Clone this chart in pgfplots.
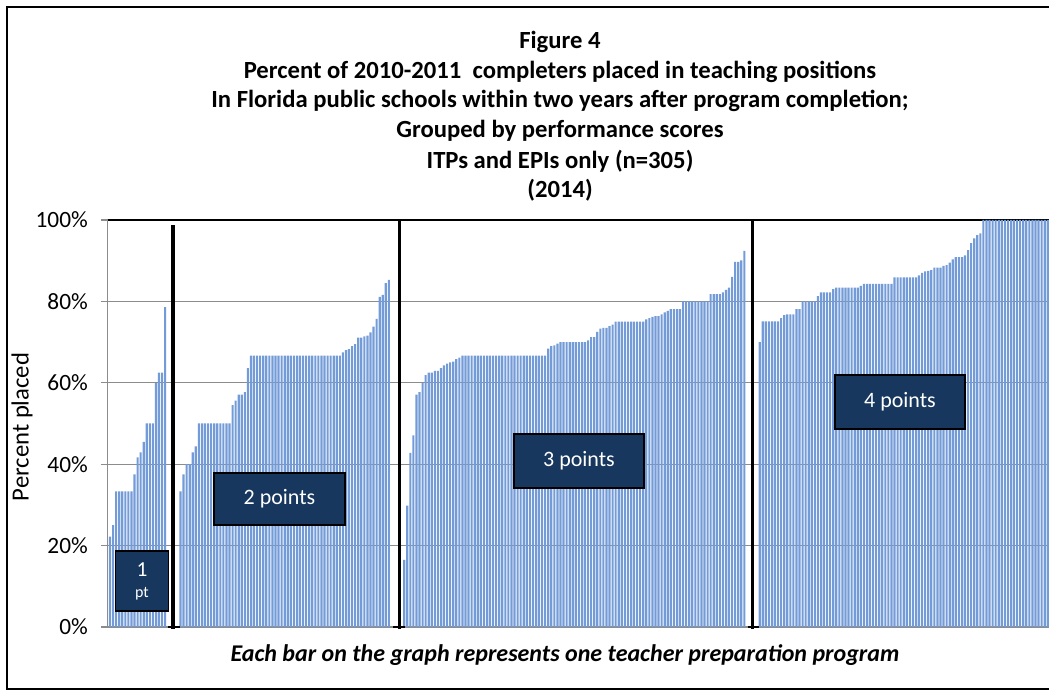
\documentclass[border=0pt]{standalone}
\usepackage{fontspec}
\setmainfont{Carlito}
\usepackage{pgfplots}
\pgfplotsset{compat=1.18}
\definecolor{navy}{HTML}{17375E}
\definecolor{barblue}{HTML}{739BD8}
\definecolor{gridgray}{HTML}{8C8C8C}
\begin{document}
\begin{tikzpicture}[x=0.75pt,y=0.75pt]
\useasboundingbox (0,0) rectangle (1049,692);
\draw[line width=0.9pt] (7,3) rectangle (1060,685);
\begin{axis}[
  at={(80.625pt,48.75pt)}, anchor=south west,
  scale only axis, width=706.1pt, height=305.25pt,
  xmin=-0.82, xmax=306.4, ymin=0, ymax=100,
  axis x line*=bottom, axis y line*=left,
  axis line style={gridgray, line width=0.8pt},
  xtick=\empty,
  ytick={0,20,40,60,80,100},
  yticklabel={\pgfmathprintnumber{\tick}\%},
  /pgf/number format/assume math mode=true,
  tick align=outside, major tick length=5.25pt,
  ytick style={gridgray, line width=0.8pt},
  yticklabel style={font=\fontsize{17.5}{20}\selectfont, xshift=-6pt},
  ymajorgrids, grid style={gridgray, line width=0.8pt},
  clip=false,
]
\draw[black, line width=0.9pt] (rel axis cs:0,1) -- (rel axis cs:1,1);
\addplot[ybar, bar width=0.7, draw=none, fill=barblue] coordinates {
(0,22.2) (1,25) (2,33.3) (3,33.3) (4,33.3) (5,33.3) (6,33.3) (7,33.3) (8,37.5) (9,41.7) (10,42.9) (11,45.5) (12,50) (13,50) (14,50) (15,60) (16,62.5) (17,62.5) (18,78.6)
(23,33.3) (24,37.5) (25,40) (26,40) (27,42.9) (28,44.4)
(29,50) (30,50) (31,50) (32,50) (33,50) (34,50) (35,50) (36,50) (37,50) (38,50) (39,50)
(40,54.5) (41,55.6) (42,57.1) (43,57.1) (44,57.7) (45,63.6)
(46,66.7) (47,66.7) (48,66.7) (49,66.7) (50,66.7) (51,66.7) (52,66.7) (53,66.7) (54,66.7) (55,66.7)
(56,66.7) (57,66.7) (58,66.7) (59,66.7) (60,66.7) (61,66.7) (62,66.7) (63,66.7) (64,66.7) (65,66.7)
(66,66.7) (67,66.7) (68,66.7) (69,66.7) (70,66.7) (71,66.7) (72,66.7) (73,66.7) (74,66.7) (75,66.7)
(76,67.5) (77,68) (78,68.3) (79,69) (80,69.5) (81,71.1) (82,71.1) (83,71.4) (84,71.6) (85,72.4) (86,73.8) (87,75.7) (88,81.1) (89,81.6) (90,84.5) (91,85.3)
(96,16.5) (97,29.8) (98,42.8) (99,47.1) (100,57.1) (101,57.7) (102,60) (103,61.9) (104,62.5) (105,62.5) (106,62.9) (107,62.9) (108,63.6) (109,64.3) (110,64.7) (111,65) (112,65.2) (113,65.8) (114,66.2)
(115,66.7) (116,66.7) (117,66.7) (118,66.7) (119,66.7) (120,66.7) (121,66.7) (122,66.7) (123,66.7) (124,66.7)
(125,66.7) (126,66.7) (127,66.7) (128,66.7) (129,66.7) (130,66.7) (131,66.7) (132,66.7) (133,66.7) (134,66.7)
(135,66.7) (136,66.7) (137,66.7) (138,66.7) (139,66.7) (140,66.7) (141,66.7) (142,66.7)
(143,68.4) (144,69) (145,69.2) (146,69.6)
(147,70) (148,70) (149,70) (150,70) (151,70) (152,70) (153,70) (154,70) (155,70)
(156,70.4) (157,71.2) (158,71.2) (159,72.5) (160,73.3) (161,73.5) (162,73.5) (163,73.9) (164,74.3)
(165,75) (166,75) (167,75) (168,75) (169,75) (170,75) (171,75) (172,75) (173,75) (174,75)
(175,75.6) (176,75.9) (177,76.2) (178,76.4) (179,76.4) (180,76.8) (181,77.3) (182,77.7) (183,78.1) (184,78.1) (185,78.1) (186,78.1)
(187,80) (188,80) (189,80) (190,80) (191,80) (192,80) (193,80) (194,80) (195,80)
(196,81.8) (197,81.8) (198,81.8) (199,81.8)
(200,82.2) (201,82.8) (202,83.4) (203,86) (204,89.7) (205,89.7) (206,90.1) (207,92.4)
(212,70)
(213,75.1) (214,75.1) (215,75.1) (216,75.1) (217,75.1) (218,75.1)
(219,75.9) (220,76.6) (221,76.8) (222,76.8) (223,76.8) (224,78.1) (225,78.1)
(226,80) (227,80) (228,80) (229,80) (230,80)
(231,81.3)
(232,82.2) (233,82.2) (234,82.2) (235,82.2)
(236,83)
(237,83.4) (238,83.4) (239,83.4) (240,83.4) (241,83.4) (242,83.4) (243,83.4) (244,83.4)
(245,83.8)
(246,84.3) (247,84.3) (248,84.3) (249,84.3) (250,84.3) (251,84.3) (252,84.3) (253,84.3) (254,84.3) (255,84.3)
(256,85.9) (257,85.9) (258,85.9) (259,85.9) (260,85.9) (261,85.9) (262,85.9) (263,85.9)
(264,86.4) (265,87) (266,87.4) (267,87.5) (268,87.7) (269,88.3) (270,88.3) (271,88.3) (272,88.7) (273,88.9) (274,89.5) (275,90.3) (276,90.9) (277,90.9) (278,90.9) (279,91.3) (280,92.6) (281,94.3) (282,95.5) (283,96.3) (284,96.7)
(285,100) (286,100) (287,100) (288,100) (289,100) (290,100) (291,100) (292,100) (293,100) (294,100) (295,100)
(296,100) (297,100) (298,100) (299,100) (300,100) (301,100) (302,100) (303,100) (304,100) (305,100) (306,100)
};
\draw[black, line width=2.3pt] (20.55,-0.4) -- (20.55,98.8);
\draw[black, line width=2.3pt] (94.6,-0.4) -- (94.6,100);
\draw[black, line width=2.3pt] (209.8,-0.4) -- (209.8,100);
\draw[black, line width=1pt] (19,0) -- (22.8,0);
\draw[black, line width=1pt] (92.4,0) -- (96.2,0);
\draw[black, line width=1pt] (208.2,0) -- (211.8,0);
\end{axis}
% titles
\begin{scope}[every node/.style={font=\fontsize{18.5}{21}\selectfont\bfseries}]
\node at (560,650) {Figure 4};
\node at (560,620) {Percent of 2010-2011\ \ completers placed in teaching positions};
\node at (560,591) {In Florida public schools within two years after program completion;};
\node at (560,561) {Grouped by performance scores};
\node at (560,531) {ITPs and EPIs only (n=305)};
\node at (560,502) {(2014)};
\end{scope}
\node[rotate=90, font=\fontsize{18.5}{21}\selectfont] at (22,265) {Percent placed};
\node[font=\fontsize{18}{21}\selectfont\bfseries\itshape] at (565,37) {Each bar on the graph represents one teacher preparation program};
% group boxes
\node[fill=navy, draw=black, line width=1pt, minimum width=39.5pt, minimum height=45pt] at (142,111) {};
\node[white, font=\fontsize{16}{19}\selectfont] at (142,122) {1};
\node[white, font=\fontsize{12}{14}\selectfont] at (142,98) {pt};
\node[fill=navy, draw=black, line width=1pt, minimum width=98.25pt, minimum height=39pt, text=white, font=\fontsize{16.5}{19}\selectfont] at (279.5,193) {2 points};
\node[fill=navy, draw=black, line width=1pt, minimum width=97.5pt, minimum height=40.5pt, text=white, font=\fontsize{16.5}{19}\selectfont] at (579,231) {3 points};
\node[fill=navy, draw=black, line width=1pt, minimum width=97.5pt, minimum height=40.5pt, text=white, font=\fontsize{16.5}{19}\selectfont] at (900,290) {4 points};
\end{tikzpicture}
\end{document}
